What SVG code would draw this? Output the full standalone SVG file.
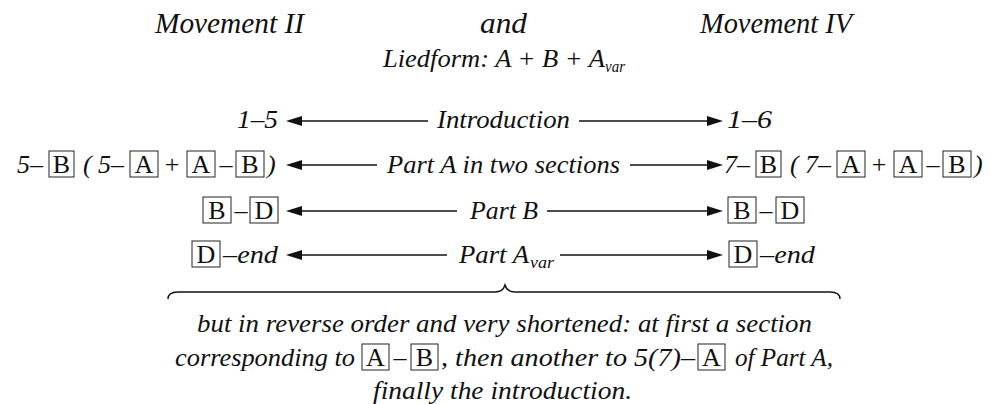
<svg xmlns="http://www.w3.org/2000/svg" width="991" height="404" viewBox="0 0 991 404">
<style>
.t{font-family:'Liberation Serif','Times New Roman',serif;font-style:italic;font-size:26px;fill:#111}
.h{font-size:29px}
.s{font-size:17px}
.b{font-style:normal;text-anchor:middle}
.bx{fill:none;stroke:#222;stroke-width:1}
.ar{stroke:#111;stroke-width:1.4;fill:none;marker-end:url(#ah)}
.br{stroke:#111;stroke-width:1.4;fill:none}
</style>
<defs>
<marker id="ah" viewBox="0 0 16 10" refX="3" refY="5" markerWidth="16" markerHeight="10" markerUnits="userSpaceOnUse" orient="auto"><path d="M0,0 L16,5 L0,10 z" fill="#111"/></marker>
</defs>
<rect width="991" height="404" fill="#fff"/>
<g id="title-left"><text class="t h" x="155" y="33" textLength="149" lengthAdjust="spacingAndGlyphs">Movement II</text></g>
<g id="title-and"><text class="t h" x="480" y="33" textLength="47" lengthAdjust="spacingAndGlyphs">and</text></g>
<g id="title-right"><text class="t h" x="700" y="33" textLength="152" lengthAdjust="spacingAndGlyphs">Movement IV</text></g>
<g id="liedform"><text class="t" x="383" y="67" textLength="222" lengthAdjust="spacingAndGlyphs">Liedform: A + B + A</text><text class="t s" x="605" y="72" textLength="20" lengthAdjust="spacingAndGlyphs">var</text></g>

<g id="row1-left"><text class="t" x="237" y="128" textLength="41" lengthAdjust="spacingAndGlyphs">1–5</text></g>
<g id="row1-mid"><text class="t" x="437" y="128" textLength="133" lengthAdjust="spacingAndGlyphs">Introduction</text></g>
<g id="row1-right"><text class="t" x="727" y="128" textLength="45" lengthAdjust="spacingAndGlyphs">1–6</text></g>

<g id="row2-left">
<text class="t" x="17" y="173">5–</text>
<rect class="bx" x="49" y="151" width="25" height="26"/><text class="t b" x="61.5" y="173">B</text>
<text class="t" x="83" y="173">(</text>
<text class="t" x="98" y="173">5–</text>
<rect class="bx" x="130" y="151" width="28" height="26"/><text class="t b" x="144" y="173">A</text>
<text class="t b" x="172" y="173">+</text>
<rect class="bx" x="187" y="151" width="28" height="26"/><text class="t b" x="201" y="173">A</text>
<text class="t b" x="226" y="173">–</text>
<rect class="bx" x="236" y="151" width="28" height="26"/><text class="t b" x="250" y="173">B</text>
<text class="t" x="267" y="173">)</text>
</g>
<g id="row2-mid"><text class="t" x="387" y="173" textLength="233" lengthAdjust="spacingAndGlyphs">Part A in two sections</text></g>
<g id="row2-right">
<text class="t" x="724" y="173">7–</text>
<rect class="bx" x="756" y="151" width="25" height="26"/><text class="t b" x="768.5" y="173">B</text>
<text class="t" x="790" y="173">(</text>
<text class="t" x="805" y="173">7–</text>
<rect class="bx" x="837" y="151" width="28" height="26"/><text class="t b" x="851" y="173">A</text>
<text class="t b" x="879" y="173">+</text>
<rect class="bx" x="894" y="151" width="28" height="26"/><text class="t b" x="908" y="173">A</text>
<text class="t b" x="933" y="173">–</text>
<rect class="bx" x="943" y="151" width="28" height="26"/><text class="t b" x="957" y="173">B</text>
<text class="t" x="974" y="173">)</text>
</g>

<g id="row3-left">
<rect class="bx" x="203" y="197" width="28" height="26"/><text class="t b" x="217" y="219">B</text>
<text class="t b" x="241" y="219">–</text>
<rect class="bx" x="250" y="197" width="28" height="26"/><text class="t b" x="264" y="219">D</text>
</g>
<g id="row3-mid"><text class="t" x="470" y="219" textLength="68" lengthAdjust="spacingAndGlyphs">Part B</text></g>
<g id="row3-right">
<rect class="bx" x="728" y="197" width="28" height="26"/><text class="t b" x="742" y="219">B</text>
<text class="t b" x="766" y="219">–</text>
<rect class="bx" x="776" y="197" width="28" height="26"/><text class="t b" x="790" y="219">D</text>
</g>

<g id="row4-left">
<rect class="bx" x="192" y="241" width="28" height="26"/><text class="t b" x="206" y="263">D</text>
<text class="t" x="223" y="263" textLength="55" lengthAdjust="spacingAndGlyphs">–end</text>
</g>
<g id="row4-mid"><text class="t" x="459" y="263" textLength="70" lengthAdjust="spacingAndGlyphs">Part A</text><text class="t s" x="530" y="268" textLength="24" lengthAdjust="spacingAndGlyphs">var</text></g>
<g id="row4-right">
<rect class="bx" x="729" y="241" width="28" height="26"/><text class="t b" x="743" y="263">D</text>
<text class="t" x="760" y="263" textLength="55" lengthAdjust="spacingAndGlyphs">–end</text>
</g>

<g id="note">
<text class="t" x="197" y="332" textLength="615" lengthAdjust="spacingAndGlyphs">but in reverse order and very shortened: at first a section</text>
<text class="t" x="175" y="366" textLength="180" lengthAdjust="spacingAndGlyphs">corresponding to</text>
<rect class="bx" x="362" y="344" width="27" height="26"/><text class="t b" x="375.5" y="366">A</text>
<text class="t b" x="400" y="366">–</text>
<rect class="bx" x="411" y="344" width="27" height="26"/><text class="t b" x="424.5" y="366">B</text>
<text class="t" x="441" y="366" textLength="254" lengthAdjust="spacingAndGlyphs">, then another to 5(7)–</text>
<rect class="bx" x="698" y="344" width="27" height="26"/><text class="t b" x="711.5" y="366">A</text>
<text class="t" x="735" y="366" textLength="98" lengthAdjust="spacingAndGlyphs">of Part A,</text>
<text class="t" x="373" y="399" textLength="259" lengthAdjust="spacingAndGlyphs">finally the introduction.</text>
</g>

<g id="connectors">
<path class="ar" d="M428,121 L299,121"/>
<path class="ar" d="M579,121 L710,121"/>
<path class="ar" d="M377,165 L299,165"/>
<path class="ar" d="M630,165 L710,165"/>
<path class="ar" d="M457,211 L299,211"/>
<path class="ar" d="M547,211 L710,211"/>
<path class="ar" d="M447,255 L299,255"/>
<path class="ar" d="M560,255 L710,255"/>
<path class="br" d="M168,299 Q168,292 178,292 L495,292 Q503,292 505,285 Q507,292 515,292 L830,292 Q840,292 840,299"/>
</g>
</svg>
